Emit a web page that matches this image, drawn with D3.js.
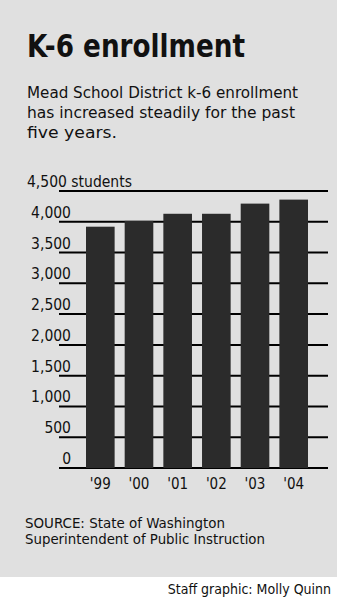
<!DOCTYPE html>
<html>
<head>
<meta charset="utf-8">
<script src="https://cdn.jsdelivr.net/npm/d3@7"></script>
<style>
  body { margin: 0; background: #fff; }
  text { font-family: "DejaVu Sans Condensed", "Liberation Sans Narrow", sans-serif; fill: #111; }
</style>
</head>
<body>
<div id="chart"></div>
<script>
const years = ["'99", "'00", "'01", "'02", "'03", "'04"];
const enrollment = [3920, 4015, 4130, 4130, 4295, 4360];
const yTicks = [0, 500, 1000, 1500, 2000, 2500, 3000, 3500, 4000, 4500];
const yTickLabels = ["0", "500", "1,000", "1,500", "2,000", "2,500", "3,000", "3,500", "4,000", "4,500 students"];

const width = 337, height = 602;

const svg = d3.select('#chart').append('svg')
  .attr('width', width)
  .attr('height', height);

// gray panel
svg.append('rect')
  .attr('x', 0).attr('y', 0)
  .attr('width', width).attr('height', 577)
  .attr('fill', '#e0e0e0');

// title + intro text
svg.append('text')
  .attr('x', 27).attr('y', 57)
  .attr('font-size', 32).attr('font-weight', 'bold')
  .attr('textLength', 218).attr('lengthAdjust', 'spacingAndGlyphs')
  .text('K-6 enrollment');

const intro = [
  { t: 'Mead School District k-6 enrollment', w: 271 },
  { t: 'has increased steadily for the past', w: 268 },
  { t: 'five years.', w: 90 }
];
svg.append('g').selectAll('text')
  .data(intro)
  .join('text')
  .attr('x', 27)
  .attr('y', (d, i) => 98 + i * 20)
  .attr('font-size', 16)
  .attr('textLength', d => d.w).attr('lengthAdjust', 'spacingAndGlyphs')
  .text(d => d.t);

// scales
const y = d3.scaleLinear().domain([0, 4500]).range([468, 191]);
const x = d3.scaleBand().domain(years).range([86, 308]).paddingInner(0.26).paddingOuter(0);

// gridlines (drawn under the bars)
svg.append('g').selectAll('line')
  .data(yTicks)
  .join('line')
  .attr('x1', 59).attr('x2', 328)
  .attr('y1', d => y(d)).attr('y2', d => y(d))
  .attr('stroke', '#000')
  .attr('stroke-width', 2);

// tick labels sit just above each line
svg.append('g').selectAll('text')
  .data(yTicks)
  .join('text')
  .attr('x', (d, i) => i === yTicks.length - 1 ? 27 : 71)
  .attr('y', d => y(d) - 4)
  .attr('text-anchor', (d, i) => i === yTicks.length - 1 ? 'start' : 'end')
  .attr('font-size', 15.5)
  .text((d, i) => yTickLabels[i]);

// bars
svg.append('g').selectAll('rect')
  .data(enrollment)
  .join('rect')
  .attr('x', (d, i) => x(years[i]))
  .attr('width', x.bandwidth())
  .attr('y', d => y(d))
  .attr('height', d => y(0) - y(d))
  .attr('fill', '#2b2b2b');

// year labels
svg.append('g').selectAll('text')
  .data(years)
  .join('text')
  .attr('x', d => x(d) + x.bandwidth() / 2)
  .attr('y', 489)
  .attr('text-anchor', 'middle')
  .attr('font-size', 15)
  .text(d => d);

// source
const source = ['SOURCE: State of Washington', 'Superintendent of Public Instruction'];
svg.append('g').selectAll('text')
  .data(source)
  .join('text')
  .attr('x', 25)
  .attr('y', (d, i) => 528 + i * 16)
  .attr('font-size', 14)
  .attr('textLength', (d, i) => i === 0 ? 200 : 240).attr('lengthAdjust', 'spacingAndGlyphs')
  .text(d => d);

svg.append('text')
  .attr('x', 331).attr('y', 594)
  .attr('text-anchor', 'end')
  .attr('font-size', 14)
  .text('Staff graphic: Molly Quinn');
</script>
</body>
</html>
